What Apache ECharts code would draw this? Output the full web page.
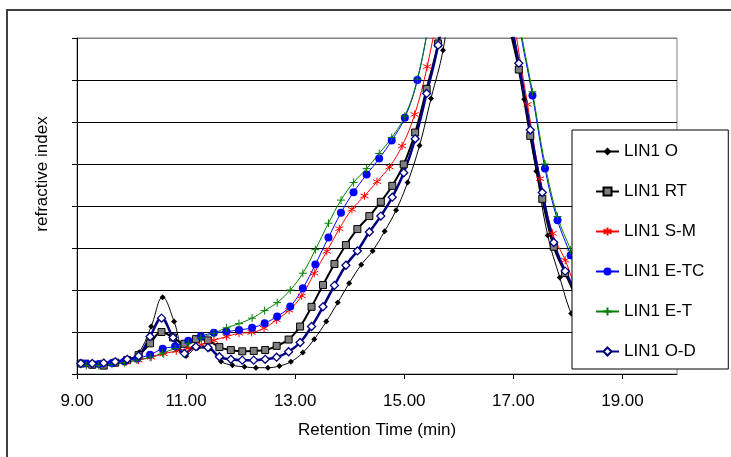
<!DOCTYPE html>
<html>
<head>
<meta charset="utf-8">
<script src="https://cdn.jsdelivr.net/npm/echarts@6/dist/echarts.min.js"></script>
<style>html,body{margin:0;padding:0;background:#fff}#c{width:731px;height:457px}</style>
</head>
<body>
<div id="c"></div>
<script>
// ---- data ----
const xTickValues = [9, 11, 13, 15, 17, 19];

const timesO = [9.07,9.29,9.50,9.71,9.93,10.14,10.36,10.57,10.78,11.00,11.21,11.43,11.64,11.85,12.07,12.28,12.50,12.71,12.92,13.14,13.35,13.57,13.78,13.99,14.21,14.42,14.64,14.85,15.06,15.28,15.49,15.71,15.92,16.13,16.35,16.56,16.78,16.99,17.20,17.42,17.63,17.85,18.06,18.28,18.49];
const valuesO = [0.25,0.25,0.25,0.27,0.31,0.52,1.13,1.83,1.25,0.43,0.62,0.60,0.30,0.21,0.17,0.15,0.15,0.19,0.29,0.51,0.83,1.25,1.70,2.16,2.60,2.93,3.40,3.90,4.56,5.44,6.56,7.71,9.6,11.5,12.5,12.0,10.2,8.3,6.54,4.83,3.30,2.30,1.44,0.9,0.55];

const timesD = [9.07,9.28,9.49,9.70,9.92,10.13,10.34,10.55,10.76,10.97,11.18,11.40,11.61,11.82,12.03,12.24,12.45,12.66,12.88,13.09,13.30,13.51,13.72,13.93,14.14,14.36,14.57,14.78,14.99,15.20,15.41,15.62,15.83,16.05,16.26,16.47,16.68,16.89,17.10,17.31,17.53,17.74,17.95,18.16,18.37,18.58];
const valuesRT = [0.25,0.22,0.20,0.27,0.33,0.45,0.73,1.00,0.87,0.72,0.83,0.80,0.64,0.57,0.54,0.55,0.57,0.67,0.82,1.13,1.60,2.12,2.62,3.07,3.45,3.76,4.10,4.48,4.99,5.75,6.79,7.87,9.4,11.0,12.5,12.8,11.5,8.6,7.25,5.67,4.17,3.03,2.40,1.8,1.2,0.7];
const valuesOD = [0.25,0.25,0.26,0.29,0.35,0.43,0.89,1.33,0.87,0.49,0.65,0.63,0.41,0.35,0.33,0.33,0.35,0.40,0.53,0.75,1.13,1.60,2.11,2.59,2.93,3.38,3.76,4.21,4.79,5.60,6.68,7.83,9.4,11.0,12.5,12.8,11.5,8.8,7.40,5.81,4.32,3.13,2.45,1.9,1.2,0.7];

const timesSM = [9.21,9.44,9.67,9.90,10.13,10.36,10.59,10.82,11.05,11.28,11.51,11.74,11.97,12.20,12.43,12.66,12.89,13.12,13.35,13.58,13.81,14.04,14.27,14.50,14.73,14.96,15.19,15.42,15.65,15.88,16.11,16.34,16.57,16.80,17.03,17.26,17.49,17.72,17.95,18.18,18.41];
const valuesSM = [0.25,0.25,0.27,0.29,0.33,0.40,0.48,0.55,0.62,0.70,0.80,0.89,0.97,0.99,1.09,1.29,1.52,1.86,2.40,2.92,3.46,3.92,4.24,4.58,4.93,5.43,6.18,7.32,8.9,10.8,12.3,13.0,12.6,10.6,8.27,6.42,4.65,3.35,2.71,1.9,1.2];

const timesE = [9.17,9.40,9.64,9.87,10.10,10.34,10.57,10.80,11.04,11.27,11.51,11.74,11.97,12.21,12.44,12.67,12.91,13.14,13.37,13.61,13.84,14.07,14.31,14.54,14.77,15.01,15.24,15.48,15.71,15.94,16.18,16.41,16.65,16.88,17.11,17.35,17.58,17.81,18.05,18.28,18.52];
const valuesETC = [0.25,0.24,0.26,0.30,0.37,0.46,0.60,0.66,0.79,0.90,0.98,1.01,1.05,1.10,1.21,1.37,1.61,2.04,2.61,3.25,3.84,4.33,4.75,5.13,5.56,6.10,7.00,8.6,10.5,12.0,13.0,13.2,12.5,10.5,8.3,6.63,4.89,3.66,2.83,2.0,1.3];
const valuesET = [0.20,0.20,0.23,0.27,0.33,0.40,0.50,0.61,0.73,0.86,0.97,1.10,1.20,1.33,1.51,1.70,2.00,2.40,2.96,3.59,4.14,4.56,4.89,5.25,5.63,6.14,7.02,8.6,10.5,12.0,13.0,13.3,12.6,10.6,8.4,6.72,5.0,3.75,2.95,2.1,1.4];

const seriesNames = ['LIN1 O','LIN1 RT','LIN1 S-M','LIN1 E-TC','LIN1 E-T','LIN1 O-D'];

// ---- chart ----
const FONT = 'Liberation Sans, Arial, sans-serif';
const FS = 17;
function pairs(t, v) { return t.map((x, i) => [x, v[i]]); }

const chart = echarts.init(document.getElementById('c'), null, {renderer: 'canvas'});
const common = { type: 'line', smooth: 0.4, animation: false, clip: true };

chart.setOption({
  animation: false,
  backgroundColor: '#fff',
  textStyle: { fontFamily: FONT },
  graphic: [
    { type: 'rect', z: -10, shape: { x: 7, y: 10, width: 760, height: 480 },
      style: { fill: '#fff', stroke: '#404040', lineWidth: 2 } },
    { type: 'text', x: 42, y: 174, rotation: Math.PI / 2,
      style: { text: 'refractive index', font: FS + 'px ' + FONT, fill: '#000', align: 'center', verticalAlign: 'middle' } }
  ],
  grid: { left: 77, top: 38, right: 54, bottom: 83, show: true, borderColor: '#808080', borderWidth: 1, backgroundColor: 'transparent' },
  xAxis: {
    type: 'value', min: 9, max: 20,
    name: 'Retention Time (min)', nameLocation: 'middle', nameGap: 48,
    nameTextStyle: { fontFamily: FONT, fontSize: FS, color: '#000' },
    axisLine: { show: true, onZero: false, lineStyle: { color: '#000', width: 1 } },
    axisTick: { show: true, length: 5, customValues: xTickValues, lineStyle: { color: '#000' } },
    axisLabel: { customValues: xTickValues, margin: 19, fontFamily: FONT, fontSize: FS, color: '#000',
      formatter: v => v.toFixed(2) },
    splitLine: { show: false }
  },
  yAxis: {
    type: 'value', min: 0, max: 8, interval: 1,
    axisLine: { show: true, lineStyle: { color: '#000', width: 1 } },
    axisTick: { show: true, length: 5, lineStyle: { color: '#000' } },
    axisLabel: { show: false },
    splitLine: { show: true, lineStyle: { color: ['#000','#000','#000','#000','#000','#000','#000','#000','#808080'], width: 1 } }
  },
  legend: {
    orient: 'vertical', left: 572, top: 130,
    padding: [13, 24, 9, 23], itemGap: 23, itemWidth: 23, itemHeight: 10,
    backgroundColor: '#fff', borderColor: '#000', borderWidth: 1,
    textStyle: { fontFamily: FONT, fontSize: FS, color: '#000' },
    data: seriesNames
  },
  series: [
    Object.assign({}, common, { name: seriesNames[0], data: pairs(timesO, valuesO),
      symbol: 'diamond', symbolSize: 6,
      itemStyle: { color: '#000', borderColor: '#000', borderWidth: 0 },
      lineStyle: { color: '#000', width: 1 } }),
    Object.assign({}, common, { name: seriesNames[1], data: pairs(timesD, valuesRT),
      symbol: 'rect', symbolSize: 7,
      itemStyle: { color: '#808080', borderColor: '#000', borderWidth: 1 },
      lineStyle: { color: '#000', width: 2 } }),
    Object.assign({}, common, { name: seriesNames[2], data: pairs(timesSM, valuesSM),
      symbol: 'path://M5,0L5,10M0.7,2.5L9.3,7.5M0.7,7.5L9.3,2.5', symbolSize: 8,
      itemStyle: { color: '#ff0000', borderColor: '#ff0000', borderWidth: 1 },
      lineStyle: { color: '#ff0000', width: 1 } }),
    Object.assign({}, common, { name: seriesNames[3], data: pairs(timesE, valuesETC),
      symbol: 'circle', symbolSize: 8,
      itemStyle: { color: '#0000ff', borderColor: '#0000ff', borderWidth: 0 },
      lineStyle: { color: '#0000ff', width: 1 } }),
    Object.assign({}, common, { name: seriesNames[4], data: pairs(timesE, valuesET),
      symbol: 'path://M5,0L5,10M0,5L10,5', symbolSize: 8,
      itemStyle: { color: '#008000', borderColor: '#008000', borderWidth: 1 },
      lineStyle: { color: '#008000', width: 1 } }),
    Object.assign({}, common, { name: seriesNames[5], data: pairs(timesD, valuesOD),
      symbol: 'diamond', symbolSize: 8,
      itemStyle: { color: '#ffffff', borderColor: '#000080', borderWidth: 1.3 },
      lineStyle: { color: '#000080', width: 2.5 } })
  ]
});
</script>
</body>
</html>
